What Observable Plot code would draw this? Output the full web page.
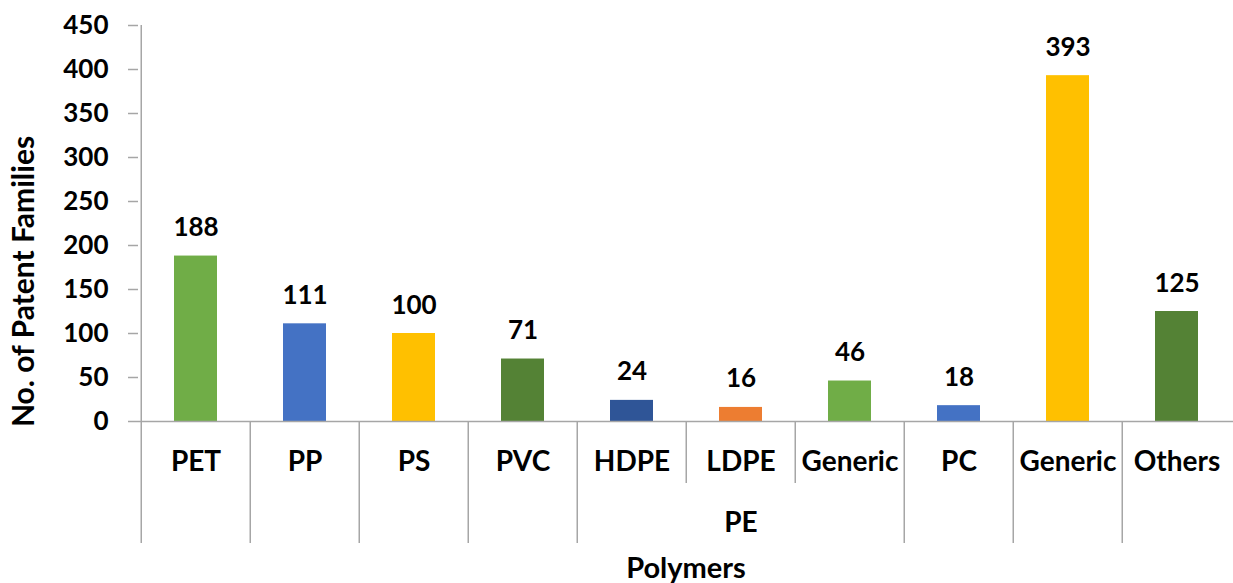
<!DOCTYPE html>
<html><head><meta charset="utf-8">
<script src="https://cdn.jsdelivr.net/npm/d3@7"></script>
<script src="https://cdn.jsdelivr.net/npm/@observablehq/plot@0.6"></script>
<style>body{margin:0;background:#fff} #chart svg{display:block}</style>
</head><body><div id="chart"></div>
<script>
const categories = ["PET","PP","PS","PVC","HDPE","LDPE","Generic","PC","Generic","Others"];
const groups = ["","","","","PE","PE","PE","","",""];
const values = [188,111,100,71,24,16,46,18,393,125];
const colors = ["#70AD47","#4472C4","#FFC000","#548235","#2F5597","#ED7D31","#70AD47","#4472C4","#FFC000","#548235"];
const yTicks = [0,50,100,150,200,250,300,350,400,450];
const yTitle = "No. of Patent Families";
const xTitle = "Polymers";

const W = 1233, H = 583, mL = 138, mR = 0, mT = 25, mB = 162;
const gray = "#a6a6a6";
const table = categories.map((c, i) => ({key: i, label: c, group: groups[i], value: values[i], color: colors[i]}));
const bw = (W - mL - mR) / categories.length;
const frameH = H - mT - mB;

// separators: long at group boundaries, short inside a group
const longSeps = table.filter((d, i) => i === 0 || d.group === "" || d.group !== groups[i - 1]);
const shortSeps = table.filter((d, i) => i > 0 && d.group !== "" && d.group === groups[i - 1]);

// group labels at the middle of each group
const groupLabels = [];
groups.forEach((g, i) => {
  if (g && (i === 0 || groups[i - 1] !== g)) {
    let j = i; while (j + 1 < groups.length && groups[j + 1] === g) j++;
    groupLabels.push({start: i, end: j, label: g});
  }
});

const chart = Plot.plot({
  width: W, height: H,
  marginLeft: mL, marginRight: mR, marginTop: mT, marginBottom: mB,
  style: {fontFamily: "Lato, sans-serif", fontWeight: "bold", fontSize: "26px", color: "black", background: "white"},
  x: {type: "band", domain: table.map(d => d.key), padding: 0, axis: null},
  y: {domain: [0, 450], axis: null},
  color: {type: "identity"},
  marks: [
    Plot.axisY(yTicks, {tickSize: 10, tickPadding: 20, stroke: gray, strokeWidth: 1.5, fill: "black", label: null, fontSize: 26}),
    Plot.ruleX([0], {x: () => 0, y1: 0, y2: 450, dx: -bw / 2, stroke: gray, strokeWidth: 1.5}),
    Plot.ruleX(longSeps, {x: "key", dx: -bw / 2, insetTop: frameH, insetBottom: -122, stroke: gray, strokeWidth: 1.5}),
    Plot.ruleX(shortSeps, {x: "key", dx: -bw / 2, insetTop: frameH, insetBottom: -62, stroke: gray, strokeWidth: 1.5}),
    Plot.barY(table, {x: "key", y: "value", fill: "color", insetLeft: 33, insetRight: 33}),
    Plot.ruleY([0], {stroke: gray, strokeWidth: 1.5}),
    Plot.text(table, {x: "key", y: "value", text: d => String(d.value), dy: -20, lineAnchor: "bottom", fontSize: 26, fontWeight: "bold", fill: "black"}),
    Plot.text(table, {x: "key", text: "label", frameAnchor: "bottom", dy: 41, lineAnchor: "middle", fontSize: 28, fontWeight: "bold", fill: "black"}),
    Plot.text(groupLabels, {x: d => Math.round((d.start + d.end) / 2), text: "label", frameAnchor: "bottom", dy: 102, lineAnchor: "middle", fontSize: 28, fontWeight: "bold", fill: "black"}),
    Plot.text([xTitle], {text: d => d, frameAnchor: "bottom", dy: 147, lineAnchor: "middle", fontSize: 29, fontWeight: "bold", fill: "black"}),
    Plot.text([yTitle], {text: d => d, frameAnchor: "left", textAnchor: "middle", rotate: -90, dx: -114, dy: 58, lineAnchor: "middle", fontSize: 30, fontWeight: "bold", fill: "black"})
  ]
});
document.getElementById("chart").appendChild(chart);
</script>
</body></html>
